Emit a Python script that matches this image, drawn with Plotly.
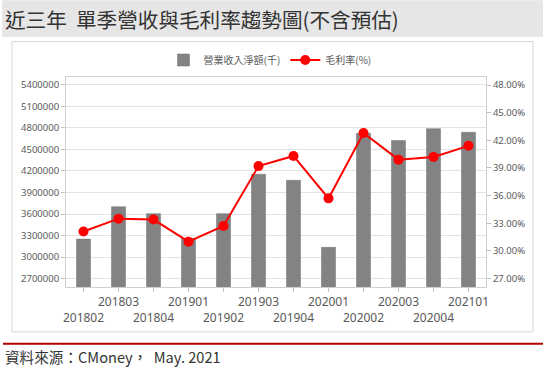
import plotly.graph_objects as go

quarters = ["201802", "201803", "201804", "201901", "201902", "201903",
            "201904", "202001", "202002", "202003", "202004", "202101"]
revenue = [3250000, 3700000, 3605000, 3260000, 3605000, 4155000,
           4070000, 3135000, 4725000, 4625000, 4790000, 4740000]
margin_pct = [32.1, 33.5, 33.4, 31.0, 32.7, 39.2,
              40.3, 35.7, 42.8, 39.9, 40.2, 41.4]

W, H = 543, 385
L, R, T, B = 66, 486, 77, 287.5

# staggered tick labels: even index on the lower row
tick_text = [("<br>" + q) if i % 2 == 0 else q for i, q in enumerate(quarters)]

fig = go.Figure()
fig.add_trace(go.Bar(
    x=quarters, y=revenue, name="營業收入淨額(千)",
    marker=dict(color="#838383", line=dict(color="#707070", width=0.5)),
    yaxis="y"))
fig.add_trace(go.Scatter(
    x=quarters, y=margin_pct, name="毛利率(%)", mode="lines+markers",
    line=dict(color="#ff0000", width=2),
    marker=dict(color="#ff0000", size=10),
    yaxis="y2"))

def px_x(p):
    return (p - L) / (R - L)

def px_y(p):
    return (B - p) / (B - T)

fig.update_layout(
    width=W, height=H,
    margin=dict(l=L, r=W - R, t=T, b=H - B, pad=0),
    paper_bgcolor="white", plot_bgcolor="white",
    bargap=0.6,
    showlegend=True,
    legend=dict(orientation="h", x=px_x(270), xanchor="center",
                y=px_y(60), yanchor="middle",
                font=dict(family="Noto Sans CJK TC", size=10, color="#595959"),
                itemwidth=30, bgcolor="rgba(0,0,0,0)"),
    xaxis=dict(
        type="category", tickmode="array", tickvals=quarters, ticktext=tick_text,
        tickangle=0, automargin=False,
        ticks="outside", ticklen=4, tickcolor="#bfbfbf",
        showline=True, linecolor="#cfcfcf", mirror=True, showgrid=False,
        tickfont=dict(family="Noto Sans", size=12, color="#595959"),
        range=[-0.5, 11.5]),
    yaxis=dict(
        range=[2582000, 5511000], tick0=2700000, dtick=300000, tickformat="d",
        automargin=False,
        ticks="outside", ticklen=4, tickcolor="#bfbfbf",
        showline=True, linecolor="#cfcfcf", gridcolor="#e3e3e3", zeroline=False,
        tickfont=dict(family="Noto Sans", size=9.5, color="#595959")),
    yaxis2=dict(
        overlaying="y", side="right", automargin=False,
        range=[26.08, 48.87], tick0=27, dtick=3, tickformat=".2f", ticksuffix="%",
        ticks="outside", ticklen=4, tickcolor="#bfbfbf",
        showline=True, linecolor="#cfcfcf", showgrid=False, zeroline=False,
        tickfont=dict(family="Noto Sans", size=9.5, color="#595959")),
    shapes=[
        dict(type="rect", xref="paper", yref="paper",
             x0=px_x(2), x1=px_x(543), y0=px_y(0), y1=px_y(37),
             fillcolor="#e6e6e6", line=dict(width=0), layer="below"),
        dict(type="rect", xref="paper", yref="paper",
             x0=px_x(12), x1=px_x(533), y0=px_y(41.5), y1=px_y(332.5),
             fillcolor="rgba(0,0,0,0)", line=dict(color="#d5d5d5", width=1), layer="below"),
        dict(type="line", xref="paper", yref="paper",
             x0=px_x(3), x1=px_x(543), y0=px_y(344.5), y1=px_y(344.5),
             line=dict(color="#b40000", width=2)),
    ],
    annotations=[
        dict(text="近三年  單季營收與毛利率趨勢圖(不含預估)", xref="paper", yref="paper",
             x=px_x(3), y=px_y(19), xanchor="left", yanchor="middle", showarrow=False,
             font=dict(family="Noto Sans CJK TC", size=20.6, color="#333333")),
        dict(text="資料來源：CMoney，  May. 2021", xref="paper", yref="paper",
             x=px_x(3), y=px_y(357), xanchor="left", yanchor="middle", showarrow=False,
             font=dict(family="Noto Sans CJK TC", size=14.6, color="#333333")),
    ],
)

fig.write_html("out.html",
               config={"displayModeBar": False},
               post_script="document.body.style.margin='0';document.body.style.overflow='hidden';")
